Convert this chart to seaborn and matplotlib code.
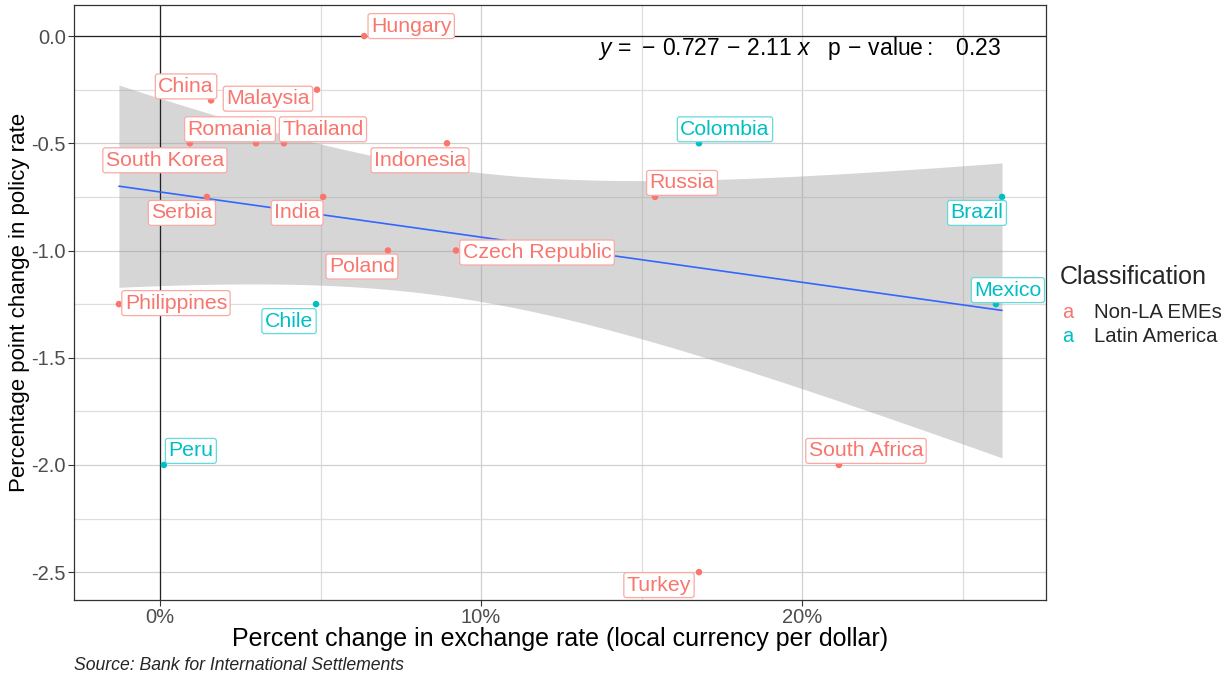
import numpy as np
import pandas as pd
import matplotlib
matplotlib.use("Agg")
import matplotlib.pyplot as plt
from matplotlib.ticker import MultipleLocator, FuncFormatter
import seaborn as sns

# ---- data ----
countries = ["Hungary", "China", "Malaysia", "South Korea", "Romania", "Thailand",
             "Indonesia", "Serbia", "India", "Poland", "Czech Republic", "Philippines",
             "Chile", "Peru", "Colombia", "Russia", "Brazil", "Mexico",
             "South Africa", "Turkey"]
fx_change = [6.36, 1.59, 4.89, 0.93, 2.99, 3.86,
             8.94, 1.46, 5.08, 7.10, 9.22, -1.28,
             4.86, 0.12, 16.79, 15.42, 26.23, 26.04,
             21.15, 16.79]  # percent
rate_change = [0.0, -0.30, -0.25, -0.50, -0.50, -0.50,
               -0.50, -0.75, -0.75, -1.00, -1.00, -1.25,
               -1.25, -2.00, -0.50, -0.75, -0.75, -1.25,
               -2.00, -2.50]
classification = ["Non-LA EMEs", "Non-LA EMEs", "Non-LA EMEs", "Non-LA EMEs",
                  "Non-LA EMEs", "Non-LA EMEs", "Non-LA EMEs", "Non-LA EMEs",
                  "Non-LA EMEs", "Non-LA EMEs", "Non-LA EMEs", "Non-LA EMEs",
                  "Latin America", "Latin America", "Latin America", "Non-LA EMEs",
                  "Latin America", "Latin America", "Non-LA EMEs", "Non-LA EMEs"]
class_order = ["Non-LA EMEs", "Latin America"]
x_ticks = [0, 10, 20]
y_ticks = [0.0, -0.5, -1.0, -1.5, -2.0, -2.5]

df = pd.DataFrame({"country": countries, "fx": fx_change, "rate": rate_change,
                   "cls": classification})

# label offsets in pixels (dx, dy) relative to point (layout only)
label_offsets = {
    "Hungary": (47, 10), "China": (-25, 14), "Malaysia": (-49, -9),
    "South Korea": (-25, -17), "Romania": (-26, 14), "Thailand": (39, 14),
    "Indonesia": (-27, -17), "Serbia": (-25, -16), "India": (-26, -16),
    "Poland": (-26, -16), "Czech Republic": (81, -2), "Philippines": (57, 1),
    "Chile": (-27, -17), "Peru": (27, 14), "Colombia": (26, 14),
    "Russia": (27, 14), "Brazil": (-25, -16), "Mexico": (12, 14),
    "South Africa": (27, 14), "Turkey": (-40, -13),
}

palette = {"Non-LA EMEs": "#F8766D", "Latin America": "#00BFC4"}
edge_palette = {"Non-LA EMEs": "#FBA9A4", "Latin America": "#66D9DC"}

sns.set_theme(style="whitegrid")
plt.rcParams["font.family"] = ["Liberation Sans", "DejaVu Sans"]
plt.rcParams["mathtext.fontset"] = "custom"
plt.rcParams["mathtext.rm"] = "Liberation Sans"
plt.rcParams["mathtext.it"] = "Liberation Sans:italic"

fig = plt.figure(figsize=(12.31, 6.74), dpi=100)
W, H = 1231, 674
ax = fig.add_axes([74 / W, 1 - 600 / H, (1046 - 74) / W, (600 - 5) / H])
ax.set_facecolor("white")

# regression band (analytic 95% CI)
xv = np.array(fx_change) / 100.0
yv = np.array(rate_change)
n = len(xv)
b1, b0 = np.polyfit(xv, yv, 1)
resid = yv - (b0 + b1 * xv)
s = np.sqrt(np.sum(resid ** 2) / (n - 2))
xg = np.linspace(xv.min(), xv.max(), 200)
se = s * np.sqrt(1 / n + (xg - xv.mean()) ** 2 / np.sum((xv - xv.mean()) ** 2))
tcrit = 2.1009
yfit = b0 + b1 * xg
ax.fill_between(xg * 100, yfit - tcrit * se, yfit + tcrit * se,
                color="#999999", alpha=0.4, lw=0, zorder=2)

sns.regplot(data=df, x="fx", y="rate", scatter=False, ci=None, ax=ax,
            color="#3366FF", line_kws={"lw": 1.2, "zorder": 3})

ax.axhline(0, color="#222222", lw=0.9, zorder=2.5)
ax.axvline(0, color="#222222", lw=0.9, zorder=2.5)

sns.scatterplot(data=df, x="fx", y="rate", hue="cls", hue_order=class_order,
                palette=palette, s=22, edgecolor="none", ax=ax, zorder=4,
                legend=False)

for c, xx, yy, cl in zip(countries, fx_change, rate_change, classification):
    dx, dy = label_offsets[c]
    col = palette[cl]
    ax.annotate(c, (xx, yy), xytext=(dx * 0.72, dy * 0.72), textcoords="offset points",
                ha="center", va="center", fontsize=15.3, color=col, zorder=5,
                bbox=dict(boxstyle="round,pad=0.14,rounding_size=0.12", fc="white",
                          ec=edge_palette[cl], lw=0.9))

ax.set_xlim(-2.68, 27.6)
ax.set_ylim(-2.63, 0.145)
ax.xaxis.set_minor_locator(MultipleLocator(5))
ax.yaxis.set_minor_locator(MultipleLocator(0.25))
ax.set_xticks(x_ticks)
ax.set_yticks(y_ticks)
ax.xaxis.set_major_formatter(FuncFormatter(lambda v, p: f"{v:.0f}%"))
ax.yaxis.set_major_formatter(FuncFormatter(lambda v, p: f"{v:.1f}"))
ax.grid(which="major", color="#D0D0D0", lw=0.9, zorder=0)
ax.grid(which="minor", color="#DEDEDE", lw=0.9, zorder=0)
ax.set_axisbelow(True)
ax.tick_params(axis="both", which="major", length=4, width=0.8, color="#333333",
               labelsize=14.5, labelcolor="#4D4D4D", direction="out", pad=2,
               bottom=True, left=True)
ax.tick_params(which="minor", length=0)
for sp in ax.spines.values():
    sp.set_color("#333333")
    sp.set_linewidth(0.9)

ax.set_xlabel("Percent change in exchange rate (local currency per dollar)",
              fontsize=18, color="black", va="top")
ax.xaxis.set_label_coords(0.5, -0.046)
ax.set_ylabel("Percentage point change in policy rate", fontsize=16,
              color="black")
ax.yaxis.set_label_coords(-0.0455, 0.5)

ax.text((598 - 74) / 972, (600 - 49) / 595,
        r"$y\,=\,-\,0.727\,-\,2.11\ x\quad \mathrm{p}\,-\,\mathrm{value}:\quad 0.23$",
        transform=ax.transAxes, fontsize=16.5, ha="left", va="center", color="black")

# legend
fig.text(1060 / W, 1 - 277 / H, "Classification", fontsize=18, ha="left", va="center")
for i, cl in enumerate(class_order):
    yy = 1 - (312 + 24 * i) / H
    fig.text(1062 / W, yy, "a", fontsize=14.5, color=palette[cl], ha="left", va="center")
    fig.text(1094 / W, yy, cl, fontsize=14.7, ha="left", va="center")

fig.text(74 / W, 1 - 665 / H, "Source: Bank for International Settlements",
         fontsize=12.7, style="italic", ha="left", va="center")

fig.savefig("out.png", dpi=100, facecolor="white")
